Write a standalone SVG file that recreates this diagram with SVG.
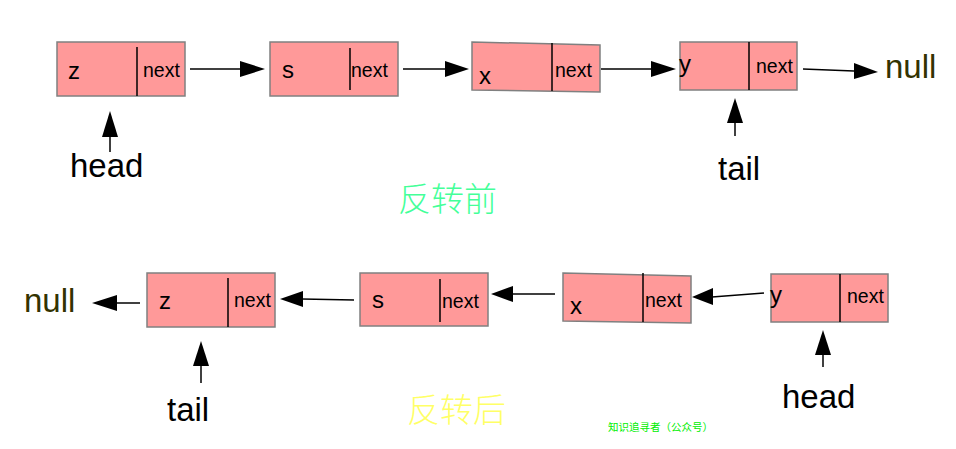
<svg xmlns="http://www.w3.org/2000/svg" width="956" height="449" viewBox="0 0 956 449">
<defs>
<style>
.box{fill:#ff9999;stroke:#808080;stroke-width:1.5}
.div{stroke:#000;stroke-width:1.5}
.lbl{font-family:"Liberation Sans",Arial,sans-serif;font-size:24px;fill:#000}
.nx{font-family:"Liberation Sans",Arial,sans-serif;font-size:19.5px;fill:#000}
.big{font-family:"Liberation Sans",Arial,sans-serif;font-size:33px;fill:#000}
.null{font-family:"Liberation Sans",Arial,sans-serif;font-size:33px;fill:#333300}
.con{stroke:#000;stroke-width:1.5;fill:none}
.cn{font-family:"Noto Sans CJK SC",sans-serif;font-weight:300}
</style>
</defs>
<rect width="956" height="449" fill="#fff"/>
<g id="connectors">
<line class="con" x1="190" y1="69" x2="240" y2="69"/><path d="M240,61 L265,69 L240,77 z"/>
<line class="con" x1="403" y1="69" x2="445" y2="69"/><path d="M445,61 L469,69 L445,77 z"/>
<line class="con" x1="601" y1="69" x2="651" y2="69"/><path d="M651,61 L676,69 L651,77 z"/>
<line class="con" x1="803" y1="69" x2="854" y2="71"/><path d="M854,63 L878,72 L854,79 z"/>
<line class="con" x1="110" y1="152" x2="110" y2="136"/><path d="M102,137 L110,111 L118,137 z"/>
<line class="con" x1="735" y1="136" x2="735" y2="122"/><path d="M727,123 L735,98 L743,123 z"/>
<line class="con" x1="140" y1="303" x2="116" y2="303"/><path d="M117,295 L92,303 L117,311 z"/>
<line class="con" x1="354" y1="300" x2="302" y2="299"/><path d="M303,291 L280,299 L303,307 z"/>
<line class="con" x1="555" y1="294" x2="512" y2="294"/><path d="M513,286 L491,294 L513,302 z"/>
<line class="con" x1="764" y1="293" x2="712" y2="297"/><path d="M713,288 L692,297 L713,305 z"/>
<line class="con" x1="201" y1="383" x2="201" y2="365"/><path d="M193,366 L201,341 L209,366 z"/>
<line class="con" x1="823" y1="367" x2="823" y2="354"/><path d="M815,355 L823,330 L831,355 z"/>
</g>
<g id="t_z">
<rect class="box" x="57" y="42" width="128" height="54"/>
<line class="div" x1="137" y1="47" x2="137" y2="96"/>
<text class="lbl" x="68" y="79">z</text>
<text class="nx" x="143" y="77">next</text>
</g>
<g id="t_s">
<rect class="box" x="270" y="42" width="128" height="54"/>
<line class="div" x1="350" y1="48" x2="350" y2="90" stroke="#444"/>
<text class="lbl" x="282" y="78">s</text>
<text class="nx" x="351" y="77">next</text>
</g>
<g id="t_x">
<polygon class="box" points="472,42 600,45 600,92 472,90"/>
<line class="div" x1="552" y1="43" x2="552" y2="91"/>
<text class="lbl" x="479" y="84">x</text>
<text class="nx" x="555" y="77">next</text>
</g>
<g id="t_y">
<rect class="box" x="680" y="42" width="117" height="48"/>
<line class="div" x1="749" y1="42" x2="749" y2="90" stroke="#333"/>
<text class="lbl" x="679" y="72">y</text>
<text class="nx" x="756" y="73">next</text>
</g>
<text class="null" x="885" y="78">null</text>
<text class="big" x="70" y="177">head</text>
<text class="big" x="718" y="180">tail</text>
<text class="cn" x="398" y="211" font-size="33" fill="#44ff99">反转前</text>
<text class="null" x="24" y="312">null</text>
<g id="b_z">
<rect class="box" x="147" y="273" width="128" height="54"/>
<line class="div" x1="228" y1="278" x2="228" y2="327"/>
<text class="lbl" x="159" y="309">z</text>
<text class="nx" x="234" y="307">next</text>
</g>
<g id="b_s">
<rect class="box" x="360" y="273" width="128" height="53"/>
<line class="div" x1="440" y1="279" x2="440" y2="322" stroke="#333"/>
<text class="lbl" x="372" y="308">s</text>
<text class="nx" x="442" y="308">next</text>
</g>
<g id="b_x">
<polygon class="box" points="563,273 691,276 691,323 563,321"/>
<line class="div" x1="643" y1="273" x2="643" y2="322" stroke="#333"/>
<text class="lbl" x="570" y="314">x</text>
<text class="nx" x="645" y="307">next</text>
</g>
<g id="b_y">
<rect class="box" x="771" y="274" width="117" height="48"/>
<line class="div" x1="840" y1="274" x2="840" y2="322" stroke="#333"/>
<text class="lbl" x="770" y="303">y</text>
<text class="nx" x="847" y="303">next</text>
</g>
<text class="big" x="167" y="421">tail</text>
<text class="big" x="782" y="408">head</text>
<text class="cn" x="407" y="422" font-size="33" fill="#ffff66">反转后</text>
<text x="608" y="431" font-family="'Noto Sans CJK SC',sans-serif" font-size="10.5" fill="#00ee00">知识追寻者（公众号）</text>
</svg>
